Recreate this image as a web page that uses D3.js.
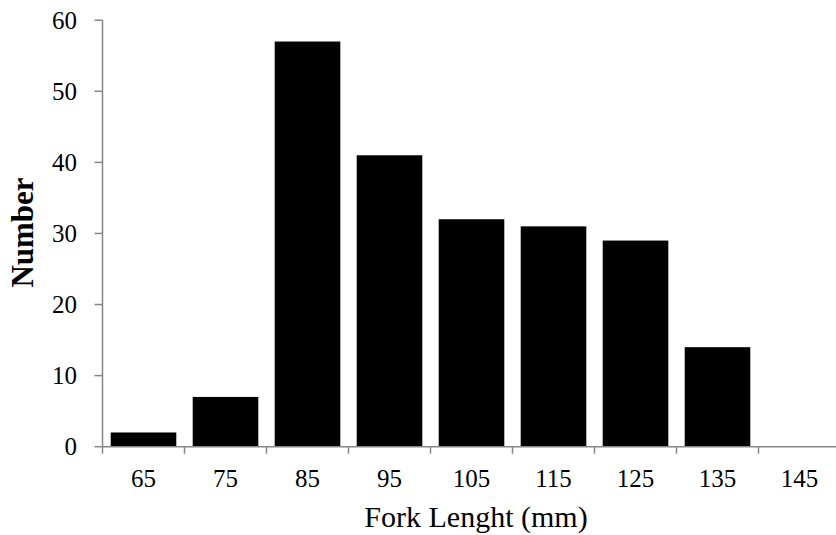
<!DOCTYPE html>
<html>
<head>
<meta charset="utf-8">
<script src="https://cdn.jsdelivr.net/npm/d3@7"></script>
<style>
  html, body { margin: 0; padding: 0; background: #fff; }
  svg { display: block; }
  text { font-family: "Liberation Serif", "Times New Roman", serif; fill: #000; }
</style>
</head>
<body>
<svg id="chart" width="836" height="535"></svg>
<script>
const categories = ["65", "75", "85", "95", "105", "115", "125", "135", "145"];
const counts = [2, 7, 57, 41, 32, 31, 29, 14, 0];
const yTicks = [0, 10, 20, 30, 40, 50, 60];
const xTitle = "Fork Lenght (mm)";
const yTitle = "Number";

const svg = d3.select("#chart");
const plotLeft = 102.5, plotRight = 840.5, plotTop = 20.2, plotBottom = 446.7;
const axisColor = "#868686";

const xAxisScale = d3.scaleBand().domain(categories).range([plotLeft, plotRight]).padding(0);
const xBar = d3.scaleBand().domain(categories).range([plotLeft, plotRight]).paddingInner(0.2).paddingOuter(0.1);
const y = d3.scaleLinear().domain([0, 60]).range([plotBottom, plotTop]);

// bars
svg.append("g").selectAll("rect")
  .data(categories.map((c, i) => ({ c, v: counts[i] })).filter(d => d.v > 0))
  .join("rect")
  .attr("x", d => xBar(d.c))
  .attr("width", xBar.bandwidth())
  .attr("y", d => y(d.v))
  .attr("height", d => y(0) - y(d.v))
  .attr("fill", "#000");

// y axis
svg.append("line")
  .attr("x1", plotLeft).attr("x2", plotLeft)
  .attr("y1", y(60)).attr("y2", y(0))
  .attr("stroke", axisColor).attr("stroke-width", 1.5);
const yg = svg.append("g");
yg.selectAll("line").data(yTicks).join("line")
  .attr("x1", plotLeft - 8).attr("x2", plotLeft)
  .attr("y1", d => y(d)).attr("y2", d => y(d))
  .attr("stroke", axisColor).attr("stroke-width", 1.5);
yg.selectAll("text").data(yTicks).join("text")
  .attr("x", 77).attr("y", d => y(d))
  .attr("dy", "0.34em")
  .attr("text-anchor", "end")
  .attr("font-size", 25)
  .text(d => d);

// x axis
svg.append("line")
  .attr("x1", plotLeft).attr("x2", 836)
  .attr("y1", plotBottom).attr("y2", plotBottom)
  .attr("stroke", axisColor).attr("stroke-width", 1.5);
const xg = svg.append("g");
xg.selectAll("line").data(categories).join("line")
  .attr("x1", d => xAxisScale(d)).attr("x2", d => xAxisScale(d))
  .attr("y1", plotBottom).attr("y2", plotBottom + 7)
  .attr("stroke", axisColor).attr("stroke-width", 1.5);
xg.selectAll("text").data(categories).join("text")
  .attr("x", d => xAxisScale(d) + xAxisScale.bandwidth() / 2)
  .attr("y", 486.7)
  .attr("text-anchor", "middle")
  .attr("font-size", 25)
  .text(d => d);

// titles
svg.append("text")
  .attr("x", 476).attr("y", 526.7)
  .attr("text-anchor", "middle")
  .attr("font-size", 30)
  .text(xTitle);
svg.append("text")
  .attr("transform", "translate(33.3,232.5) rotate(-90)")
  .attr("text-anchor", "middle")
  .attr("font-size", 31)
  .attr("font-weight", "bold")
  .text(yTitle);
</script>
</body>
</html>
